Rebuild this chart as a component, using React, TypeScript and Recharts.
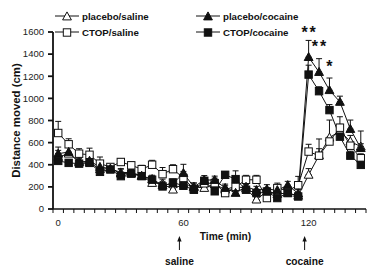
import React from 'react'
import {
  ErrorBar,
  Legend,
  Line,
  LineChart,
  ReferenceDot,
  XAxis,
  YAxis,
} from 'recharts'

const times = [0, 5, 10, 15, 20, 25, 30, 35, 40, 45, 50, 55, 60, 65, 70, 75, 80, 85, 90, 95, 100, 105, 110, 115, 120, 125, 130, 135, 140, 145]

const placeboSaline = [470, 500, 430, 420, 360, 365, 330, 330, 300, 235, 230, 175, 230, 200, 190, 225, 175, 205, 185, 85, 160, 135, 145, 120, 309, 485, 645, 705, 610, 564]
const placeboSalineErr = [60, 60, 40, 40, 40, 35, 35, 30, 35, 40, 40, 40, 45, 35, 30, 40, 35, 40, 35, 35, 30, 30, 30, 30, 56, 60, 159, 60, 55, 141]

const placeboCocaine = [500, 515, 420, 435, 380, 365, 320, 320, 300, 270, 215, 230, 324, 200, 262, 262, 190, 145, 200, 170, 180, 170, 215, 140, 1373, 1238, 1074, 968, 723, 550]
const placeboCocaineErr = [60, 45, 35, 40, 50, 30, 40, 35, 35, 35, 35, 35, 80, 35, 40, 35, 35, 35, 35, 35, 40, 35, 35, 35, 151, 121, 110, 52, 81, 40]

const ctopSaline = [687, 585, 500, 490, 410, 380, 425, 395, 360, 400, 315, 360, 280, 180, 232, 234, 144, 200, 264, 264, 99, 189, 165, 215, 519, 482, 610, 735, 572, 459]
const ctopSalineErr = [105, 50, 45, 60, 60, 30, 30, 30, 35, 40, 60, 40, 60, 30, 40, 45, 35, 40, 40, 40, 30, 45, 35, 80, 66, 151, 40, 99, 40, 40]

const ctopCocaine = [435, 417, 410, 417, 336, 357, 297, 320, 297, 265, 204, 240, 210, 174, 255, 160, 309, 270, 174, 144, 158, 99, 144, 113, 1215, 1065, 894, 654, 482, 399]
const ctopCocaineErr = [40, 30, 30, 30, 35, 30, 35, 30, 30, 30, 30, 30, 30, 30, 30, 30, 30, 75, 30, 30, 30, 30, 30, 30, 85, 40, 50, 40, 40, 35]

const yTicks = [0, 200, 400, 600, 800, 1000, 1200, 1400, 1600]
const xLabelTicks = [0, 60, 120]
const xBinEdges = [-2.5, ...times.map((t) => t + 2.5)]
const events = [
  { t: 60, label: 'saline' },
  { t: 120, label: 'cocaine' },
]
const stars = [
  { t: 120, v: 1600, text: '**' },
  { t: 125, v: 1470, text: '**' },
  { t: 130, v: 1290, text: '*' },
]

const series = [
  { key: 'ps', name: 'placebo/saline', shape: 'triangle', filled: false },
  { key: 'cs', name: 'CTOP/saline', shape: 'square', filled: false },
  { key: 'pc', name: 'placebo/cocaine', shape: 'triangle', filled: true },
  { key: 'cc', name: 'CTOP/cocaine', shape: 'square', filled: true },
]

const chartData = times.map((t, i) => ({
  t,
  ps: placeboSaline[i],
  psErr: [0, placeboSalineErr[i]],
  pc: placeboCocaine[i],
  pcErr: [0, placeboCocaineErr[i]],
  cs: ctopSaline[i],
  csErr: [0, ctopSalineErr[i]],
  cc: ctopCocaine[i],
  ccErr: [0, ctopCocaineErr[i]],
}))

const FONT = '"Liberation Sans", Arial, sans-serif'
const INK = '#111'

function Marker({ cx, cy, shape, filled }: { cx: number; cy: number; shape: string; filled: boolean }) {
  const fill = filled ? INK : '#fff'
  if (shape === 'square') {
    return <rect x={cx - 3.7} y={cy - 3.7} width={7.4} height={7.4} fill={fill} stroke={INK} strokeWidth={1} />
  }
  return (
    <path
      d={`M${cx},${cy - 4.6}L${cx + 4.4},${cy + 3.4}L${cx - 4.4},${cy + 3.4}Z`}
      fill={fill}
      stroke={INK}
      strokeWidth={1}
    />
  )
}

function TimeTick({ x, y, payload }: any) {
  if (xLabelTicks.includes(payload.value)) {
    return (
      <text x={x} y={y + 17} textAnchor="middle" fontSize={9.5} fontFamily={FONT} fill="#222">
        {payload.value}
      </text>
    )
  }
  return <line x1={x} y1={y} x2={x} y2={y + 4} stroke={INK} strokeWidth={1} />
}

// arrow + label under the time axis for the two injections
function EventTick({ x, y, payload }: any) {
  const ev = events.find((e) => e.t === payload.value)
  const ax = x - 4
  return (
    <g>
      <path d={`M${ax},${y - 4}L${ax + 2.2},${y + 1.5}L${ax - 2.2},${y + 1.5}Z`} fill={INK} />
      <line x1={ax} y1={y} x2={ax} y2={y + 10} stroke={INK} strokeWidth={1} />
      <text x={ax} y={y + 25} textAnchor="middle" fontSize={10.2} fontWeight="bold" fontFamily={FONT} fill={INK}>
        {ev ? ev.label : ''}
      </text>
    </g>
  )
}

function LegendBox() {
  return (
    <div style={{ position: 'relative', width: 386, height: 45, fontFamily: FONT, fontSize: 9.7, fontWeight: 'bold', color: INK }}>
      {series.map((s, i) => (
        <div
          key={s.key}
          style={{
            position: 'absolute',
            left: i < 2 ? 55 : 196,
            top: i % 2 === 0 ? 8 : 24,
            height: 16,
            display: 'flex',
            alignItems: 'center',
            whiteSpace: 'nowrap',
          }}
        >
          <svg width={24} height={12} style={{ display: 'block' }}>
            <line x1={0} y1={6} x2={24} y2={6} stroke={INK} strokeWidth={1} />
            <Marker cx={12} cy={6.5} shape={s.shape} filled={s.filled} />
          </svg>
          <span style={{ marginLeft: 3 }}>{s.name}</span>
        </div>
      ))}
    </div>
  )
}

export default function App() {
  return (
    <div style={{ position: 'absolute', left: 0, top: 0, width: 386, height: 280, background: '#fff' }}>
      <LineChart width={386} height={280} data={chartData} margin={{ top: 32, right: 20, bottom: 0, left: 0 }}>
        <YAxis
          type="number"
          domain={[0, 1600]}
          ticks={yTicks}
          interval={0}
          width={53}
          tickSize={5}
          tickMargin={4}
          stroke={INK}
          strokeWidth={1.8}
          tick={{ fontSize: 9.5, fontFamily: FONT, fill: '#222' }}
          label={{
            value: 'Distance moved (cm)',
            angle: -90,
            position: 'insideLeft',
            offset: 16,
            style: { textAnchor: 'middle', fontSize: 11.4, fontWeight: 'bold', fontFamily: FONT, fill: INK },
          }}
        />
        <XAxis
          dataKey="t"
          type="number"
          domain={[-2.5, 147.5]}
          ticks={[...xBinEdges, ...xLabelTicks].sort((a, b) => a - b)}
          interval={0}
          height={31}
          tickSize={0}
          tickMargin={0}
          tickLine={false}
          stroke={INK}
          strokeWidth={1.5}
          tick={<TimeTick />}
          label={{
            value: 'Time (min)',
            position: 'insideBottom',
            offset: 0,
            dx: 16,
            style: { fontSize: 10.2, fontWeight: 'bold', fontFamily: FONT, fill: INK },
          }}
        />
        <XAxis
          xAxisId="ev"
          dataKey="t"
          type="number"
          domain={[-2.5, 147.5]}
          ticks={events.map((e) => e.t)}
          interval={0}
          height={40}
          tickSize={0}
          tickMargin={0}
          axisLine={false}
          tickLine={false}
          tick={<EventTick />}
        />
        <Legend layout="horizontal" verticalAlign="middle" align="center" wrapperStyle={{ left: 0, top: 0, width: 386, height: 45 }} content={() => <LegendBox />} />
        {series.map((s) => (
          <Line
            key={s.key}
            dataKey={s.key}
            name={s.name}
            type="linear"
            stroke={INK}
            strokeWidth={1}
            isAnimationActive={false}
            dot={(p: any) => <Marker key={`${s.key}-${p.index}`} cx={p.cx} cy={p.cy} shape={s.shape} filled={s.filled} />}
          >
            <ErrorBar dataKey={`${s.key}Err`} direction="y" width={3} stroke={INK} strokeWidth={1} isAnimationActive={false} />
          </Line>
        ))}
        {stars.map((s, i) => (
          <ReferenceDot
            key={i}
            x={s.t}
            y={s.v}
            r={0}
            ifOverflow="visible"
            label={{ value: s.text, position: 'center', fontSize: 16, fontWeight: 'bold', fontFamily: FONT, fill: INK, letterSpacing: 2, dx: 1 }}
          />
        ))}
      </LineChart>
    </div>
  )
}
